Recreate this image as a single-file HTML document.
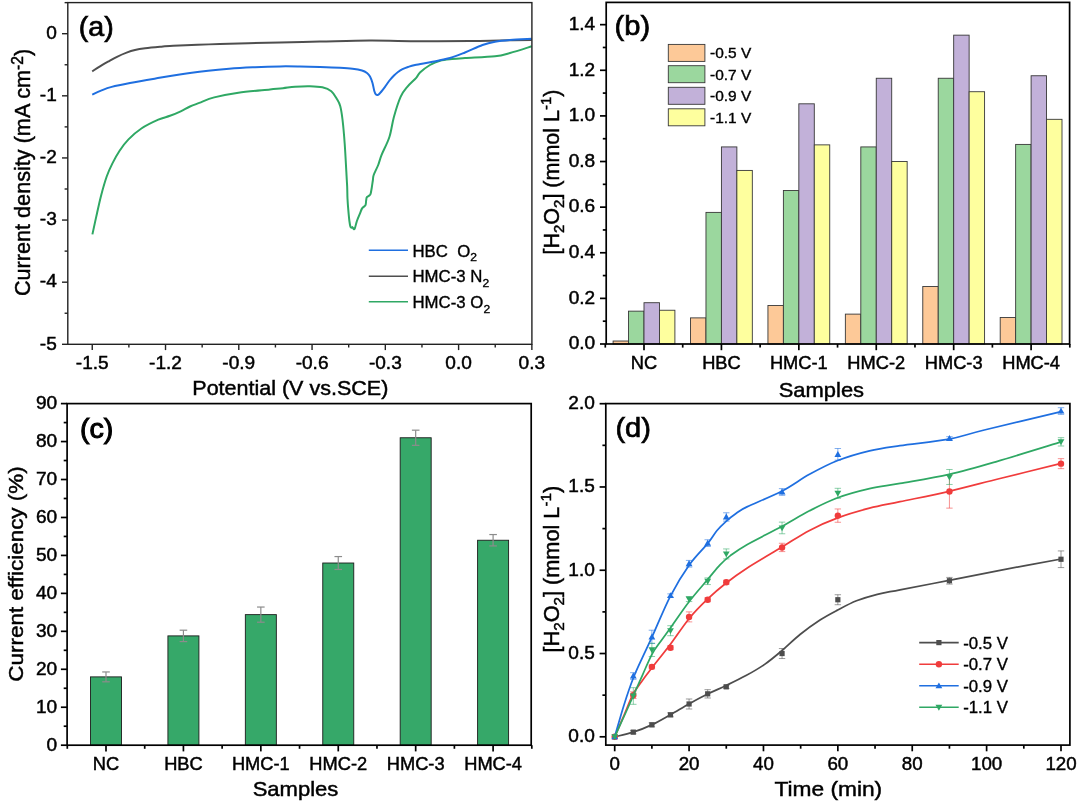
<!DOCTYPE html>
<html lang="en"><head><meta charset="utf-8"><title>Figure</title>
<style>html,body{margin:0;padding:0;background:#fff;}svg{display:block;}text{font-family:"Liberation Sans", Arial, Helvetica, sans-serif;}</style></head><body>
<svg width="1080" height="805" viewBox="0 0 1080 805">
<rect x="0" y="0" width="1080" height="805" fill="#fff"/>
<g id="panel-a">
<line x1="92.25" y1="344.3" x2="92.25" y2="350.1" stroke="#222" stroke-width="1.4" />
<text transform="translate(92.25,368.9) scale(1.09,1.0)" font-size="17.5" text-anchor="middle" font-weight="normal" fill="#000" stroke="#000" stroke-width="0.45">-1.5</text>
<line x1="165.52" y1="344.3" x2="165.52" y2="350.1" stroke="#222" stroke-width="1.4" />
<text transform="translate(165.52,368.9) scale(1.09,1.0)" font-size="17.5" text-anchor="middle" font-weight="normal" fill="#000" stroke="#000" stroke-width="0.45">-1.2</text>
<line x1="238.79" y1="344.3" x2="238.79" y2="350.1" stroke="#222" stroke-width="1.4" />
<text transform="translate(238.79,368.9) scale(1.09,1.0)" font-size="17.5" text-anchor="middle" font-weight="normal" fill="#000" stroke="#000" stroke-width="0.45">-0.9</text>
<line x1="312.06" y1="344.3" x2="312.06" y2="350.1" stroke="#222" stroke-width="1.4" />
<text transform="translate(312.06,368.9) scale(1.09,1.0)" font-size="17.5" text-anchor="middle" font-weight="normal" fill="#000" stroke="#000" stroke-width="0.45">-0.6</text>
<line x1="385.33" y1="344.3" x2="385.33" y2="350.1" stroke="#222" stroke-width="1.4" />
<text transform="translate(385.33,368.9) scale(1.09,1.0)" font-size="17.5" text-anchor="middle" font-weight="normal" fill="#000" stroke="#000" stroke-width="0.45">-0.3</text>
<line x1="458.6" y1="344.3" x2="458.6" y2="350.1" stroke="#222" stroke-width="1.4" />
<text transform="translate(458.6,368.9) scale(1.09,1.0)" font-size="17.5" text-anchor="middle" font-weight="normal" fill="#000" stroke="#000" stroke-width="0.45">0.0</text>
<line x1="531.87" y1="344.3" x2="531.87" y2="350.1" stroke="#222" stroke-width="1.4" />
<text transform="translate(531.87,368.9) scale(1.09,1.0)" font-size="17.5" text-anchor="middle" font-weight="normal" fill="#000" stroke="#000" stroke-width="0.45">0.3</text>
<line x1="128.88" y1="344.3" x2="128.88" y2="347.5" stroke="#222" stroke-width="1.4" />
<line x1="202.16" y1="344.3" x2="202.16" y2="347.5" stroke="#222" stroke-width="1.4" />
<line x1="275.42" y1="344.3" x2="275.42" y2="347.5" stroke="#222" stroke-width="1.4" />
<line x1="348.69" y1="344.3" x2="348.69" y2="347.5" stroke="#222" stroke-width="1.4" />
<line x1="421.96" y1="344.3" x2="421.96" y2="347.5" stroke="#222" stroke-width="1.4" />
<line x1="495.23" y1="344.3" x2="495.23" y2="347.5" stroke="#222" stroke-width="1.4" />
<line x1="67.8" y1="33.7" x2="62" y2="33.7" stroke="#222" stroke-width="1.4" />
<text transform="translate(56.8,39) scale(1.09,1.0)" font-size="17.5" text-anchor="end" font-weight="normal" fill="#000" stroke="#000" stroke-width="0.45">0</text>
<line x1="67.8" y1="95.82" x2="62" y2="95.82" stroke="#222" stroke-width="1.4" />
<text transform="translate(56.8,101.12) scale(1.09,1.0)" font-size="17.5" text-anchor="end" font-weight="normal" fill="#000" stroke="#000" stroke-width="0.45">-1</text>
<line x1="67.8" y1="157.94" x2="62" y2="157.94" stroke="#222" stroke-width="1.4" />
<text transform="translate(56.8,163.24) scale(1.09,1.0)" font-size="17.5" text-anchor="end" font-weight="normal" fill="#000" stroke="#000" stroke-width="0.45">-2</text>
<line x1="67.8" y1="220.06" x2="62" y2="220.06" stroke="#222" stroke-width="1.4" />
<text transform="translate(56.8,225.36) scale(1.09,1.0)" font-size="17.5" text-anchor="end" font-weight="normal" fill="#000" stroke="#000" stroke-width="0.45">-3</text>
<line x1="67.8" y1="282.18" x2="62" y2="282.18" stroke="#222" stroke-width="1.4" />
<text transform="translate(56.8,287.48) scale(1.09,1.0)" font-size="17.5" text-anchor="end" font-weight="normal" fill="#000" stroke="#000" stroke-width="0.45">-4</text>
<line x1="67.8" y1="344.3" x2="62" y2="344.3" stroke="#222" stroke-width="1.4" />
<text transform="translate(56.8,349.6) scale(1.09,1.0)" font-size="17.5" text-anchor="end" font-weight="normal" fill="#000" stroke="#000" stroke-width="0.45">-5</text>
<line x1="67.8" y1="2.64" x2="64.6" y2="2.64" stroke="#222" stroke-width="1.4" />
<line x1="67.8" y1="64.76" x2="64.6" y2="64.76" stroke="#222" stroke-width="1.4" />
<line x1="67.8" y1="126.88" x2="64.6" y2="126.88" stroke="#222" stroke-width="1.4" />
<line x1="67.8" y1="189" x2="64.6" y2="189" stroke="#222" stroke-width="1.4" />
<line x1="67.8" y1="251.12" x2="64.6" y2="251.12" stroke="#222" stroke-width="1.4" />
<line x1="67.8" y1="313.24" x2="64.6" y2="313.24" stroke="#222" stroke-width="1.4" />
<clipPath id="clipA"><rect x="67.8" y="2.6" width="464.09999999999997" height="341.7"/></clipPath>
<g clip-path="url(#clipA)" fill="none" stroke-width="2.0" stroke-linejoin="round" stroke-linecap="butt">
<path d="M92.2,71.3 C93.5,70.47 97.37,67.9 100,66.3 C102.63,64.7 105.17,63.28 108,61.7 C110.83,60.12 113.9,58.32 117,56.8 C120.1,55.28 123.6,53.73 126.6,52.6 C129.6,51.47 131.9,50.72 135,50 C138.1,49.28 141.03,48.83 145.2,48.3 C149.37,47.77 155.33,47.22 160,46.8 C164.67,46.38 163.23,46.28 173.2,45.8 C183.17,45.32 202,44.47 219.8,43.9 C237.6,43.33 263.3,42.78 280,42.4 C296.7,42.02 305,41.9 320,41.6 C335,41.3 353.33,40.67 370,40.6 C386.67,40.53 403.33,41.13 420,41.2 C436.67,41.27 456.67,41.12 470,41 C483.33,40.88 489.71,40.67 500,40.5 C510.29,40.33 526.46,40.08 531.75,40" stroke="#4f4f4f"/>
<path d="M92.4,234.4 C93.03,231.48 94.77,223.32 96.2,216.9 C97.63,210.48 99.25,202.63 101,195.9 C102.75,189.17 104.82,181.88 106.7,176.5 C108.58,171.12 110.15,167.9 112.3,163.6 C114.45,159.3 116.9,154.73 119.6,150.7 C122.3,146.67 124.87,143.1 128.5,139.4 C132.13,135.7 136.43,131.78 141.4,128.5 C146.37,125.22 153.53,121.82 158.3,119.7 C163.07,117.58 166.27,117.2 170,115.8 C173.73,114.4 177.37,112.85 180.7,111.3 C184.03,109.75 186.9,107.9 190,106.5 C193.1,105.1 195.27,104.42 199.3,102.9 C203.33,101.38 207.68,99.1 214.2,97.4 C220.72,95.7 229.1,94.02 238.4,92.7 C247.7,91.38 262.57,90.25 270,89.5 C277.43,88.75 278.83,88.67 283,88.2 C287.17,87.73 290.5,87.03 295,86.7 C299.5,86.37 305.43,86.1 310,86.2 C314.57,86.3 318.85,86.47 322.4,87.3 C325.95,88.13 328.88,89.25 331.3,91.2 C333.72,93.15 335.42,96.53 336.9,99 C338.38,101.47 339.27,102.58 340.2,106 C341.13,109.42 341.75,113.22 342.5,119.5 C343.25,125.78 343.98,133.62 344.7,143.7 C345.42,153.78 346.38,172.7 346.8,180 C347.22,187.3 347.08,184.38 347.2,187.5 C347.32,190.62 347.32,194.97 347.5,198.7 C347.68,202.43 347.98,206.18 348.3,209.9 C348.62,213.62 349.03,218.15 349.4,221 C349.77,223.85 350.08,225.87 350.5,227 C350.92,228.13 351.57,227.77 351.9,227.8 C352.23,227.83 352.17,226.95 352.5,227.2 C352.83,227.45 353.48,229.2 353.9,229.3 C354.32,229.4 354.5,229.18 355,227.8 C355.5,226.42 356.08,223.37 356.9,221 C357.72,218.63 359.03,215.7 359.9,213.6 C360.77,211.5 361.23,209.72 362.1,208.4 C362.97,207.08 364.48,206.45 365.1,205.7 C365.72,204.95 365.62,204.83 365.8,203.9 C365.98,202.97 366.02,201.22 366.2,200.1 C366.38,198.98 366.33,198 366.9,197.2 C367.47,196.4 368.97,195.93 369.6,195.3 C370.23,194.67 370.33,194.7 370.7,193.4 C371.07,192.1 371.43,189.73 371.8,187.5 C372.17,185.27 372.58,182.08 372.9,180 C373.22,177.92 372.82,177.5 373.7,175 C374.58,172.5 376.88,168.35 378.2,165 C379.52,161.65 379.73,159.57 381.6,154.9 C383.47,150.23 387.35,143.33 389.4,137 C391.45,130.67 392.03,123.6 393.9,116.9 C395.77,110.2 398.37,101.82 400.6,96.8 C402.83,91.78 404.7,89.97 407.3,86.8 C409.9,83.63 414.08,80.18 416.2,77.8 C418.32,75.42 417.7,74.63 420,72.5 C422.3,70.37 426.67,66.96 430,65 C433.33,63.04 436.33,61.75 440,60.75 C443.67,59.75 447.83,59.46 452,59 C456.17,58.54 457.83,58.46 465,58 C472.17,57.54 487.5,57.08 495,56.25 C502.5,55.42 503.88,54.67 510,53 C516.12,51.33 528.12,47.38 531.75,46.25" stroke="#2fa864"/>
<path d="M92.2,94.6 C93.67,93.93 97.75,91.88 101,90.6 C104.25,89.32 106.87,88.17 111.7,86.9 C116.53,85.63 122.85,84.37 130,83 C137.15,81.63 144.3,80.42 154.6,78.7 C164.9,76.98 179.38,74.35 191.8,72.7 C204.22,71.05 218.57,69.72 229.1,68.8 C239.63,67.88 246.52,67.6 255,67.2 C263.48,66.8 272.5,66.52 280,66.4 C287.5,66.28 293.33,66.4 300,66.5 C306.67,66.6 313.33,66.78 320,67 C326.67,67.22 334.58,67.51 340,67.8 C345.42,68.09 348.83,68.3 352.5,68.75 C356.17,69.2 359.58,69.79 362,70.5 C364.42,71.21 365.67,72 367,73 C368.33,74 369.08,74.83 370,76.5 C370.92,78.17 371.78,80.58 372.5,83 C373.22,85.42 373.72,89.07 374.3,91 C374.88,92.93 375.3,94 376,94.6 C376.7,95.2 377.67,95.03 378.5,94.6 C379.33,94.17 379.92,93.3 381,92 C382.08,90.7 383.58,88.72 385,86.8 C386.42,84.88 388,82.38 389.5,80.5 C391,78.62 392.58,76.92 394,75.5 C395.42,74.08 396.58,73.05 398,72 C399.42,70.95 400.83,70.03 402.5,69.2 C404.17,68.37 405.92,67.7 408,67 C410.08,66.3 410.92,65.88 415,65 C419.08,64.12 426.67,62.92 432.5,61.75 C438.33,60.58 444.58,59.54 450,58 C455.42,56.46 459.58,54.67 465,52.5 C470.42,50.33 477.5,46.79 482.5,45 C487.5,43.21 490.42,42.58 495,41.75 C499.58,40.92 503.88,40.5 510,40 C516.12,39.5 528.12,38.96 531.75,38.75" stroke="#1f6fe0"/>
</g>
<rect x="67.8" y="2.6" width="464.1" height="341.7" fill="none" stroke="#222" stroke-width="1.4"/>
<line x1="368.8" y1="250.3" x2="408" y2="250.3" stroke="#1f6fe0" stroke-width="1.6" />
<text transform="translate(412.5,256.7) scale(1.05,1.0)" font-size="16" text-anchor="start" font-weight="normal" fill="#000" stroke="#000" stroke-width="0.35">HBC&#160; O<tspan font-size="11.5" dy="4.6">2</tspan></text>
<line x1="368.8" y1="276.3" x2="408" y2="276.3" stroke="#4f4f4f" stroke-width="1.6" />
<text transform="translate(412.5,282.3) scale(1.05,1.0)" font-size="16" text-anchor="start" font-weight="normal" fill="#000" stroke="#000" stroke-width="0.35">HMC-3 N<tspan font-size="11.5" dy="4.6">2</tspan></text>
<line x1="368.8" y1="301.8" x2="408" y2="301.8" stroke="#2fa864" stroke-width="1.6" />
<text transform="translate(412.5,307.9) scale(1.05,1.0)" font-size="16" text-anchor="start" font-weight="normal" fill="#000" stroke="#000" stroke-width="0.35">HMC-3 O<tspan font-size="11.5" dy="4.6">2</tspan></text>
<text transform="translate(78.8,36.4) scale(1.04,1.0)" font-size="27.5" text-anchor="start" font-weight="normal" fill="#000" stroke="#000" stroke-width="0.7">(a)</text>
<text transform="translate(290.3,394.8) scale(1.05,1.0)" font-size="20.5" text-anchor="middle" font-weight="normal" fill="#000" stroke="#000" stroke-width="0.45">Potential (V vs.SCE)</text>
<text transform="translate(30.1,172.5) rotate(-90) scale(1.007,1.04)" font-size="21.5" text-anchor="middle" font-weight="normal" fill="#000" stroke="#000" stroke-width="0.45">Current density (mA cm<tspan font-size="15.5" dy="-6.8">-2</tspan><tspan dy="6.8">)</tspan></text>
</g>
<g id="panel-b">
<rect x="613.1" y="341.03" width="15.45" height="2.97" fill="#fdc998" stroke="#383838" stroke-width="0.9"/>
<rect x="628.55" y="311.15" width="15.45" height="32.85" fill="#9bd79e" stroke="#383838" stroke-width="0.9"/>
<rect x="644" y="302.71" width="15.45" height="41.29" fill="#c2b1d9" stroke="#383838" stroke-width="0.9"/>
<rect x="659.45" y="310.24" width="15.45" height="33.76" fill="#feff9e" stroke="#383838" stroke-width="0.9"/>
<rect x="690.52" y="317.88" width="15.45" height="26.12" fill="#fdc998" stroke="#383838" stroke-width="0.9"/>
<rect x="705.97" y="212.39" width="15.45" height="131.61" fill="#9bd79e" stroke="#383838" stroke-width="0.9"/>
<rect x="721.42" y="146.92" width="15.45" height="197.08" fill="#c2b1d9" stroke="#383838" stroke-width="0.9"/>
<rect x="736.87" y="170.42" width="15.45" height="173.58" fill="#feff9e" stroke="#383838" stroke-width="0.9"/>
<rect x="767.94" y="305.45" width="15.45" height="38.55" fill="#fdc998" stroke="#383838" stroke-width="0.9"/>
<rect x="783.39" y="190.49" width="15.45" height="153.51" fill="#9bd79e" stroke="#383838" stroke-width="0.9"/>
<rect x="798.84" y="103.81" width="15.45" height="240.19" fill="#c2b1d9" stroke="#383838" stroke-width="0.9"/>
<rect x="814.29" y="144.87" width="15.45" height="199.13" fill="#feff9e" stroke="#383838" stroke-width="0.9"/>
<rect x="845.36" y="314.12" width="15.45" height="29.88" fill="#fdc998" stroke="#383838" stroke-width="0.9"/>
<rect x="860.81" y="146.92" width="15.45" height="197.08" fill="#9bd79e" stroke="#383838" stroke-width="0.9"/>
<rect x="876.26" y="78.26" width="15.45" height="265.74" fill="#c2b1d9" stroke="#383838" stroke-width="0.9"/>
<rect x="891.71" y="161.52" width="15.45" height="182.48" fill="#feff9e" stroke="#383838" stroke-width="0.9"/>
<rect x="922.78" y="286.52" width="15.45" height="57.48" fill="#fdc998" stroke="#383838" stroke-width="0.9"/>
<rect x="938.23" y="78.26" width="15.45" height="265.74" fill="#9bd79e" stroke="#383838" stroke-width="0.9"/>
<rect x="953.68" y="35.15" width="15.45" height="308.85" fill="#c2b1d9" stroke="#383838" stroke-width="0.9"/>
<rect x="969.13" y="91.72" width="15.45" height="252.28" fill="#feff9e" stroke="#383838" stroke-width="0.9"/>
<rect x="1000.2" y="317.54" width="15.45" height="26.46" fill="#fdc998" stroke="#383838" stroke-width="0.9"/>
<rect x="1015.65" y="144.41" width="15.45" height="199.59" fill="#9bd79e" stroke="#383838" stroke-width="0.9"/>
<rect x="1031.1" y="75.75" width="15.45" height="268.25" fill="#c2b1d9" stroke="#383838" stroke-width="0.9"/>
<rect x="1046.55" y="119.32" width="15.45" height="224.68" fill="#feff9e" stroke="#383838" stroke-width="0.9"/>
<line x1="606.2" y1="344" x2="600" y2="344" stroke="#000" stroke-width="1.7" />
<text transform="translate(595.2,349.3) scale(1.09,1.0)" font-size="17.5" text-anchor="end" font-weight="normal" fill="#000" stroke="#000" stroke-width="0.45">0.0</text>
<line x1="606.2" y1="298.38" x2="600" y2="298.38" stroke="#000" stroke-width="1.7" />
<text transform="translate(595.2,303.68) scale(1.09,1.0)" font-size="17.5" text-anchor="end" font-weight="normal" fill="#000" stroke="#000" stroke-width="0.45">0.2</text>
<line x1="606.2" y1="252.76" x2="600" y2="252.76" stroke="#000" stroke-width="1.7" />
<text transform="translate(595.2,258.06) scale(1.09,1.0)" font-size="17.5" text-anchor="end" font-weight="normal" fill="#000" stroke="#000" stroke-width="0.45">0.4</text>
<line x1="606.2" y1="207.14" x2="600" y2="207.14" stroke="#000" stroke-width="1.7" />
<text transform="translate(595.2,212.44) scale(1.09,1.0)" font-size="17.5" text-anchor="end" font-weight="normal" fill="#000" stroke="#000" stroke-width="0.45">0.6</text>
<line x1="606.2" y1="161.52" x2="600" y2="161.52" stroke="#000" stroke-width="1.7" />
<text transform="translate(595.2,166.82) scale(1.09,1.0)" font-size="17.5" text-anchor="end" font-weight="normal" fill="#000" stroke="#000" stroke-width="0.45">0.8</text>
<line x1="606.2" y1="115.9" x2="600" y2="115.9" stroke="#000" stroke-width="1.7" />
<text transform="translate(595.2,121.2) scale(1.09,1.0)" font-size="17.5" text-anchor="end" font-weight="normal" fill="#000" stroke="#000" stroke-width="0.45">1.0</text>
<line x1="606.2" y1="70.28" x2="600" y2="70.28" stroke="#000" stroke-width="1.7" />
<text transform="translate(595.2,75.58) scale(1.09,1.0)" font-size="17.5" text-anchor="end" font-weight="normal" fill="#000" stroke="#000" stroke-width="0.45">1.2</text>
<line x1="606.2" y1="24.66" x2="600" y2="24.66" stroke="#000" stroke-width="1.7" />
<text transform="translate(595.2,29.96) scale(1.09,1.0)" font-size="17.5" text-anchor="end" font-weight="normal" fill="#000" stroke="#000" stroke-width="0.45">1.4</text>
<line x1="606.2" y1="321.19" x2="602.8" y2="321.19" stroke="#000" stroke-width="1.7" />
<line x1="606.2" y1="275.57" x2="602.8" y2="275.57" stroke="#000" stroke-width="1.7" />
<line x1="606.2" y1="229.95" x2="602.8" y2="229.95" stroke="#000" stroke-width="1.7" />
<line x1="606.2" y1="184.33" x2="602.8" y2="184.33" stroke="#000" stroke-width="1.7" />
<line x1="606.2" y1="138.71" x2="602.8" y2="138.71" stroke="#000" stroke-width="1.7" />
<line x1="606.2" y1="93.09" x2="602.8" y2="93.09" stroke="#000" stroke-width="1.7" />
<line x1="606.2" y1="47.47" x2="602.8" y2="47.47" stroke="#000" stroke-width="1.7" />
<line x1="644" y1="344" x2="644" y2="350.2" stroke="#000" stroke-width="1.7" />
<text transform="translate(644,369.2) scale(1.045,1.0)" font-size="17.5" text-anchor="middle" font-weight="normal" fill="#000" stroke="#000" stroke-width="0.45">NC</text>
<line x1="721.42" y1="344" x2="721.42" y2="350.2" stroke="#000" stroke-width="1.7" />
<text transform="translate(721.42,369.2) scale(1.045,1.0)" font-size="17.5" text-anchor="middle" font-weight="normal" fill="#000" stroke="#000" stroke-width="0.45">HBC</text>
<line x1="798.84" y1="344" x2="798.84" y2="350.2" stroke="#000" stroke-width="1.7" />
<text transform="translate(798.84,369.2) scale(1.045,1.0)" font-size="17.5" text-anchor="middle" font-weight="normal" fill="#000" stroke="#000" stroke-width="0.45">HMC-1</text>
<line x1="876.26" y1="344" x2="876.26" y2="350.2" stroke="#000" stroke-width="1.7" />
<text transform="translate(876.26,369.2) scale(1.045,1.0)" font-size="17.5" text-anchor="middle" font-weight="normal" fill="#000" stroke="#000" stroke-width="0.45">HMC-2</text>
<line x1="953.68" y1="344" x2="953.68" y2="350.2" stroke="#000" stroke-width="1.7" />
<text transform="translate(953.68,369.2) scale(1.045,1.0)" font-size="17.5" text-anchor="middle" font-weight="normal" fill="#000" stroke="#000" stroke-width="0.45">HMC-3</text>
<line x1="1031.1" y1="344" x2="1031.1" y2="350.2" stroke="#000" stroke-width="1.7" />
<text transform="translate(1031.1,369.2) scale(1.045,1.0)" font-size="17.5" text-anchor="middle" font-weight="normal" fill="#000" stroke="#000" stroke-width="0.45">HMC-4</text>
<line x1="605.29" y1="344" x2="605.29" y2="347.6" stroke="#000" stroke-width="1.7" />
<line x1="682.71" y1="344" x2="682.71" y2="347.6" stroke="#000" stroke-width="1.7" />
<line x1="760.13" y1="344" x2="760.13" y2="347.6" stroke="#000" stroke-width="1.7" />
<line x1="837.55" y1="344" x2="837.55" y2="347.6" stroke="#000" stroke-width="1.7" />
<line x1="914.97" y1="344" x2="914.97" y2="347.6" stroke="#000" stroke-width="1.7" />
<line x1="992.39" y1="344" x2="992.39" y2="347.6" stroke="#000" stroke-width="1.7" />
<line x1="1069.81" y1="344" x2="1069.81" y2="347.6" stroke="#000" stroke-width="1.7" />
<rect x="606.2" y="2.4" width="463.4" height="341.6" fill="none" stroke="#000" stroke-width="1.7"/>
<rect x="668.3" y="44.4" width="36.6" height="17" fill="#fdc998" stroke="#383838" stroke-width="0.9"/>
<text transform="translate(710,58.4) scale(1.08,1.0)" font-size="14.3" text-anchor="start" font-weight="normal" fill="#000" stroke="#000" stroke-width="0.35">-0.5 V</text>
<rect x="668.3" y="65.7" width="36.6" height="17" fill="#9bd79e" stroke="#383838" stroke-width="0.9"/>
<text transform="translate(710,79.7) scale(1.08,1.0)" font-size="14.3" text-anchor="start" font-weight="normal" fill="#000" stroke="#000" stroke-width="0.35">-0.7 V</text>
<rect x="668.3" y="87.3" width="36.6" height="17" fill="#c2b1d9" stroke="#383838" stroke-width="0.9"/>
<text transform="translate(710,101.3) scale(1.08,1.0)" font-size="14.3" text-anchor="start" font-weight="normal" fill="#000" stroke="#000" stroke-width="0.35">-0.9 V</text>
<rect x="668.3" y="108.8" width="36.6" height="17" fill="#feff9e" stroke="#383838" stroke-width="0.9"/>
<text transform="translate(710,122.8) scale(1.08,1.0)" font-size="14.3" text-anchor="start" font-weight="normal" fill="#000" stroke="#000" stroke-width="0.35">-1.1 V</text>
<text transform="translate(614.6,35.3) scale(1.06,1.0)" font-size="27.5" text-anchor="start" font-weight="normal" fill="#000" stroke="#000" stroke-width="0.7">(b)</text>
<text transform="translate(821.4,396.9) scale(1.07,1.0)" font-size="20.5" text-anchor="middle" font-weight="normal" fill="#000" stroke="#000" stroke-width="0.45">Samples</text>
<text transform="translate(559.2,172) rotate(-90) scale(1.0,1.03)" font-size="21.5" text-anchor="middle" font-weight="normal" fill="#000" stroke="#000" stroke-width="0.45">[H<tspan font-size="15" dy="4.5">2</tspan><tspan dy="-4.5">O</tspan><tspan font-size="15" dy="4.5">2</tspan><tspan dy="-4.5">] (mmol L</tspan><tspan font-size="15" dy="-7.5">-1</tspan><tspan dy="7.5">)</tspan></text>
</g>
<g id="panel-c">
<rect x="59.099999999999994" y="402.8" width="473.1" height="349.6" fill="#fff" stroke="none" opacity="0"/>
<rect x="90.5" y="676.88" width="31" height="68.32" fill="#36a869" stroke="#1c1c1c" stroke-width="0.9"/>
<line x1="106" y1="671.95" x2="106" y2="681.81" stroke="#8c8c8c" stroke-width="1.2" />
<line x1="102.2" y1="671.95" x2="109.8" y2="671.95" stroke="#8c8c8c" stroke-width="1.2" />
<line x1="102.2" y1="681.81" x2="109.8" y2="681.81" stroke="#8c8c8c" stroke-width="1.2" />
<rect x="167.92" y="635.89" width="31" height="109.31" fill="#36a869" stroke="#1c1c1c" stroke-width="0.9"/>
<line x1="183.42" y1="630.19" x2="183.42" y2="641.58" stroke="#8c8c8c" stroke-width="1.2" />
<line x1="179.62" y1="630.19" x2="187.22" y2="630.19" stroke="#8c8c8c" stroke-width="1.2" />
<line x1="179.62" y1="641.58" x2="187.22" y2="641.58" stroke="#8c8c8c" stroke-width="1.2" />
<rect x="245.34" y="614.63" width="31" height="130.57" fill="#36a869" stroke="#1c1c1c" stroke-width="0.9"/>
<line x1="260.84" y1="607.04" x2="260.84" y2="622.22" stroke="#8c8c8c" stroke-width="1.2" />
<line x1="257.04" y1="607.04" x2="264.64" y2="607.04" stroke="#8c8c8c" stroke-width="1.2" />
<line x1="257.04" y1="622.22" x2="264.64" y2="622.22" stroke="#8c8c8c" stroke-width="1.2" />
<rect x="322.76" y="563.01" width="31" height="182.19" fill="#36a869" stroke="#1c1c1c" stroke-width="0.9"/>
<line x1="338.26" y1="556.56" x2="338.26" y2="569.47" stroke="#8c8c8c" stroke-width="1.2" />
<line x1="334.46" y1="556.56" x2="342.06" y2="556.56" stroke="#8c8c8c" stroke-width="1.2" />
<line x1="334.46" y1="569.47" x2="342.06" y2="569.47" stroke="#8c8c8c" stroke-width="1.2" />
<rect x="400.18" y="437.76" width="31" height="307.44" fill="#36a869" stroke="#1c1c1c" stroke-width="0.9"/>
<line x1="415.68" y1="430.17" x2="415.68" y2="445.35" stroke="#8c8c8c" stroke-width="1.2" />
<line x1="411.88" y1="430.17" x2="419.48" y2="430.17" stroke="#8c8c8c" stroke-width="1.2" />
<line x1="411.88" y1="445.35" x2="419.48" y2="445.35" stroke="#8c8c8c" stroke-width="1.2" />
<rect x="477.6" y="540.24" width="31" height="204.96" fill="#36a869" stroke="#1c1c1c" stroke-width="0.9"/>
<line x1="493.1" y1="534.55" x2="493.1" y2="545.93" stroke="#8c8c8c" stroke-width="1.2" />
<line x1="489.3" y1="534.55" x2="496.9" y2="534.55" stroke="#8c8c8c" stroke-width="1.2" />
<line x1="489.3" y1="545.93" x2="496.9" y2="545.93" stroke="#8c8c8c" stroke-width="1.2" />
<line x1="67.1" y1="745.2" x2="60.9" y2="745.2" stroke="#000" stroke-width="1.7" />
<text transform="translate(57.2,750.8) scale(1.09,1.0)" font-size="17.5" text-anchor="end" font-weight="normal" fill="#000" stroke="#000" stroke-width="0.45">0</text>
<line x1="67.1" y1="707.24" x2="60.9" y2="707.24" stroke="#000" stroke-width="1.7" />
<text transform="translate(57.2,712.84) scale(1.09,1.0)" font-size="17.5" text-anchor="end" font-weight="normal" fill="#000" stroke="#000" stroke-width="0.45">10</text>
<line x1="67.1" y1="669.29" x2="60.9" y2="669.29" stroke="#000" stroke-width="1.7" />
<text transform="translate(57.2,674.89) scale(1.09,1.0)" font-size="17.5" text-anchor="end" font-weight="normal" fill="#000" stroke="#000" stroke-width="0.45">20</text>
<line x1="67.1" y1="631.33" x2="60.9" y2="631.33" stroke="#000" stroke-width="1.7" />
<text transform="translate(57.2,636.93) scale(1.09,1.0)" font-size="17.5" text-anchor="end" font-weight="normal" fill="#000" stroke="#000" stroke-width="0.45">30</text>
<line x1="67.1" y1="593.38" x2="60.9" y2="593.38" stroke="#000" stroke-width="1.7" />
<text transform="translate(57.2,598.98) scale(1.09,1.0)" font-size="17.5" text-anchor="end" font-weight="normal" fill="#000" stroke="#000" stroke-width="0.45">40</text>
<line x1="67.1" y1="555.42" x2="60.9" y2="555.42" stroke="#000" stroke-width="1.7" />
<text transform="translate(57.2,561.02) scale(1.09,1.0)" font-size="17.5" text-anchor="end" font-weight="normal" fill="#000" stroke="#000" stroke-width="0.45">50</text>
<line x1="67.1" y1="517.47" x2="60.9" y2="517.47" stroke="#000" stroke-width="1.7" />
<text transform="translate(57.2,523.07) scale(1.09,1.0)" font-size="17.5" text-anchor="end" font-weight="normal" fill="#000" stroke="#000" stroke-width="0.45">60</text>
<line x1="67.1" y1="479.51" x2="60.9" y2="479.51" stroke="#000" stroke-width="1.7" />
<text transform="translate(57.2,485.11) scale(1.09,1.0)" font-size="17.5" text-anchor="end" font-weight="normal" fill="#000" stroke="#000" stroke-width="0.45">70</text>
<line x1="67.1" y1="441.56" x2="60.9" y2="441.56" stroke="#000" stroke-width="1.7" />
<text transform="translate(57.2,447.16) scale(1.09,1.0)" font-size="17.5" text-anchor="end" font-weight="normal" fill="#000" stroke="#000" stroke-width="0.45">80</text>
<line x1="67.1" y1="403.6" x2="60.9" y2="403.6" stroke="#000" stroke-width="1.7" />
<text transform="translate(57.2,409.2) scale(1.09,1.0)" font-size="17.5" text-anchor="end" font-weight="normal" fill="#000" stroke="#000" stroke-width="0.45">90</text>
<line x1="67.1" y1="726.22" x2="63.7" y2="726.22" stroke="#000" stroke-width="1.7" />
<line x1="67.1" y1="688.27" x2="63.7" y2="688.27" stroke="#000" stroke-width="1.7" />
<line x1="67.1" y1="650.31" x2="63.7" y2="650.31" stroke="#000" stroke-width="1.7" />
<line x1="67.1" y1="612.36" x2="63.7" y2="612.36" stroke="#000" stroke-width="1.7" />
<line x1="67.1" y1="574.4" x2="63.7" y2="574.4" stroke="#000" stroke-width="1.7" />
<line x1="67.1" y1="536.44" x2="63.7" y2="536.44" stroke="#000" stroke-width="1.7" />
<line x1="67.1" y1="498.49" x2="63.7" y2="498.49" stroke="#000" stroke-width="1.7" />
<line x1="67.1" y1="460.53" x2="63.7" y2="460.53" stroke="#000" stroke-width="1.7" />
<line x1="67.1" y1="422.58" x2="63.7" y2="422.58" stroke="#000" stroke-width="1.7" />
<line x1="106" y1="745.2" x2="106" y2="751.4" stroke="#000" stroke-width="1.7" />
<text transform="translate(106,770.2) scale(1.045,1.0)" font-size="17.5" text-anchor="middle" font-weight="normal" fill="#000" stroke="#000" stroke-width="0.45">NC</text>
<line x1="183.42" y1="745.2" x2="183.42" y2="751.4" stroke="#000" stroke-width="1.7" />
<text transform="translate(183.42,770.2) scale(1.045,1.0)" font-size="17.5" text-anchor="middle" font-weight="normal" fill="#000" stroke="#000" stroke-width="0.45">HBC</text>
<line x1="260.84" y1="745.2" x2="260.84" y2="751.4" stroke="#000" stroke-width="1.7" />
<text transform="translate(260.84,770.2) scale(1.045,1.0)" font-size="17.5" text-anchor="middle" font-weight="normal" fill="#000" stroke="#000" stroke-width="0.45">HMC-1</text>
<line x1="338.26" y1="745.2" x2="338.26" y2="751.4" stroke="#000" stroke-width="1.7" />
<text transform="translate(338.26,770.2) scale(1.045,1.0)" font-size="17.5" text-anchor="middle" font-weight="normal" fill="#000" stroke="#000" stroke-width="0.45">HMC-2</text>
<line x1="415.68" y1="745.2" x2="415.68" y2="751.4" stroke="#000" stroke-width="1.7" />
<text transform="translate(415.68,770.2) scale(1.045,1.0)" font-size="17.5" text-anchor="middle" font-weight="normal" fill="#000" stroke="#000" stroke-width="0.45">HMC-3</text>
<line x1="493.1" y1="745.2" x2="493.1" y2="751.4" stroke="#000" stroke-width="1.7" />
<text transform="translate(493.1,770.2) scale(1.045,1.0)" font-size="17.5" text-anchor="middle" font-weight="normal" fill="#000" stroke="#000" stroke-width="0.45">HMC-4</text>
<line x1="67.29" y1="745.2" x2="67.29" y2="748.8" stroke="#000" stroke-width="1.7" />
<line x1="144.71" y1="745.2" x2="144.71" y2="748.8" stroke="#000" stroke-width="1.7" />
<line x1="222.13" y1="745.2" x2="222.13" y2="748.8" stroke="#000" stroke-width="1.7" />
<line x1="299.55" y1="745.2" x2="299.55" y2="748.8" stroke="#000" stroke-width="1.7" />
<line x1="376.97" y1="745.2" x2="376.97" y2="748.8" stroke="#000" stroke-width="1.7" />
<line x1="454.39" y1="745.2" x2="454.39" y2="748.8" stroke="#000" stroke-width="1.7" />
<line x1="531.81" y1="745.2" x2="531.81" y2="748.8" stroke="#000" stroke-width="1.7" />
<rect x="67.1" y="403.6" width="464.1" height="341.6" fill="none" stroke="#000" stroke-width="1.7"/>
<text transform="translate(80,438) scale(1.06,1.0)" font-size="27" text-anchor="start" font-weight="normal" fill="#000" stroke="#000" stroke-width="1.0">(c)</text>
<text transform="translate(295.5,795.5) scale(1.075,1.0)" font-size="20.5" text-anchor="middle" font-weight="normal" fill="#000" stroke="#000" stroke-width="0.45">Samples</text>
<text transform="translate(23.1,574) rotate(-90) scale(1.096,1.0)" font-size="20.5" text-anchor="middle" font-weight="normal" fill="#000" stroke="#000" stroke-width="0.45">Current efficiency (%)</text>
</g>
<g id="panel-d">
<path d="M614.7,736.8 C617.77,736.03 626.85,734.23 633.1,732.2 C639.35,730.17 645.98,727.52 652.2,724.6 C658.42,721.68 664.2,718.18 670.4,714.7 C676.6,711.22 683.13,707.18 689.4,703.7 C695.67,700.22 701.87,696.83 708,693.8 C714.13,690.77 719.87,688.53 726.2,685.5 C732.53,682.47 739.65,679.08 746,675.6 C752.35,672.12 758.35,668.73 764.3,664.6 C770.25,660.47 775.75,655.82 781.7,650.8 C787.65,645.78 793.62,639.63 800,634.5 C806.38,629.37 813.72,624.08 820,620 C826.28,615.92 831.62,613.2 837.7,610 C843.78,606.8 849.9,603.42 856.5,600.8 C863.1,598.18 870.05,596.13 877.3,594.3 C884.55,592.47 888.03,592.12 900,589.8 C911.97,587.48 932.43,583.65 949.1,580.4 C965.77,577.15 981.32,573.87 1000,570.3 C1018.68,566.73 1051,560.88 1061.2,559" fill="none" stroke="#4d4d4d" stroke-width="1.75" stroke-linejoin="round"/>
<rect x="612.1" y="734.2" width="5.2" height="5.2" fill="#4d4d4d"/>
<path d="M633.3,730.47 V733.8 M630.1,730.47 H636.5 M630.1,733.8 H636.5" stroke="#4d4d4d" stroke-width="0.7" fill="none" opacity="0.8"/>
<rect x="630.7" y="729.54" width="5.2" height="5.2" fill="#4d4d4d"/>
<path d="M651.89,722.81 V726.81 M648.69,722.81 H655.09 M648.69,726.81 H655.09" stroke="#4d4d4d" stroke-width="0.7" fill="none" opacity="0.8"/>
<rect x="649.29" y="722.21" width="5.2" height="5.2" fill="#4d4d4d"/>
<path d="M670.49,712.82 V716.81 M667.29,712.82 H673.69 M667.29,716.81 H673.69" stroke="#4d4d4d" stroke-width="0.7" fill="none" opacity="0.8"/>
<rect x="667.89" y="712.22" width="5.2" height="5.2" fill="#4d4d4d"/>
<path d="M689.08,698.99 V708.99 M685.88,698.99 H692.28 M685.88,708.99 H692.28" stroke="#4d4d4d" stroke-width="0.7" fill="none" opacity="0.8"/>
<rect x="686.48" y="701.39" width="5.2" height="5.2" fill="#4d4d4d"/>
<path d="M707.68,689.67 V697.99 M704.48,689.67 H710.88 M704.48,697.99 H710.88" stroke="#4d4d4d" stroke-width="0.7" fill="none" opacity="0.8"/>
<rect x="705.08" y="691.23" width="5.2" height="5.2" fill="#4d4d4d"/>
<path d="M726.28,685.17 V688.5 M723.08,685.17 H729.48 M723.08,688.5 H729.48" stroke="#4d4d4d" stroke-width="0.7" fill="none" opacity="0.8"/>
<rect x="723.68" y="684.23" width="5.2" height="5.2" fill="#4d4d4d"/>
<path d="M782.06,648.53 V658.52 M778.86,648.53 H785.26 M778.86,658.52 H785.26" stroke="#4d4d4d" stroke-width="0.7" fill="none" opacity="0.8"/>
<rect x="779.46" y="650.92" width="5.2" height="5.2" fill="#4d4d4d"/>
<path d="M837.85,594.73 V604.73 M834.65,594.73 H841.05 M834.65,604.73 H841.05" stroke="#4d4d4d" stroke-width="0.7" fill="none" opacity="0.8"/>
<rect x="835.25" y="597.13" width="5.2" height="5.2" fill="#4d4d4d"/>
<path d="M949.43,577.41 V584.07 M946.23,577.41 H952.63 M946.23,584.07 H952.63" stroke="#4d4d4d" stroke-width="0.7" fill="none" opacity="0.8"/>
<rect x="946.83" y="578.14" width="5.2" height="5.2" fill="#4d4d4d"/>
<path d="M1061,550.93 V567.59 M1057.8,550.93 H1064.2 M1057.8,567.59 H1064.2" stroke="#4d4d4d" stroke-width="0.7" fill="none" opacity="0.8"/>
<rect x="1058.4" y="556.66" width="5.2" height="5.2" fill="#4d4d4d"/>
<path d="M614.7,736.8 C616.25,733.22 620.92,722.45 624,715.3 C627.08,708.15 630.1,699.75 633.2,693.9 C636.3,688.05 639.43,684.6 642.6,680.2 C645.77,675.8 647.57,673.48 652.2,667.5 C656.83,661.52 664.2,652.52 670.4,644.3 C676.6,636.08 683.13,625.8 689.4,618.2 C695.67,610.6 701.87,604.57 708,598.7 C714.13,592.83 719.72,588.08 726.2,583 C732.68,577.92 737.67,574.15 746.9,568.2 C756.13,562.25 771.17,553.6 781.6,547.3 C792.03,541 800.15,535.3 809.5,530.4 C818.85,525.5 827.7,521.6 837.7,517.9 C847.7,514.2 859.12,510.9 869.5,508.2 C879.88,505.5 886.73,504.52 900,501.7 C913.27,498.88 932.43,495.17 949.1,491.3 C965.77,487.43 981.32,483.15 1000,478.5 C1018.68,473.85 1051,465.92 1061.2,463.4" fill="none" stroke="#f03c3c" stroke-width="1.75" stroke-linejoin="round"/>
<circle cx="614.7" cy="736.8" r="3.2" fill="#f03c3c"/>
<path d="M633.3,691.83 V698.49 M630.1,691.83 H636.5 M630.1,698.49 H636.5" stroke="#f03c3c" stroke-width="0.7" fill="none" opacity="0.8"/>
<circle cx="633.3" cy="695.16" r="3.2" fill="#f03c3c"/>
<path d="M651.89,664.85 V668.85 M648.69,664.85 H655.09 M648.69,668.85 H655.09" stroke="#f03c3c" stroke-width="0.7" fill="none" opacity="0.8"/>
<circle cx="651.89" cy="666.85" r="3.2" fill="#f03c3c"/>
<path d="M670.49,645.7 V649.69 M667.29,645.7 H673.69 M667.29,649.69 H673.69" stroke="#f03c3c" stroke-width="0.7" fill="none" opacity="0.8"/>
<circle cx="670.49" cy="647.7" r="3.2" fill="#f03c3c"/>
<path d="M689.08,611.89 V621.88 M685.88,611.89 H692.28 M685.88,621.88 H692.28" stroke="#f03c3c" stroke-width="0.7" fill="none" opacity="0.8"/>
<circle cx="689.08" cy="616.88" r="3.2" fill="#f03c3c"/>
<path d="M707.68,597.73 V601.73 M704.48,597.73 H710.88 M704.48,601.73 H710.88" stroke="#f03c3c" stroke-width="0.7" fill="none" opacity="0.8"/>
<circle cx="707.68" cy="599.73" r="3.2" fill="#f03c3c"/>
<path d="M726.28,580.24 V584.24 M723.08,580.24 H729.48 M723.08,584.24 H729.48" stroke="#f03c3c" stroke-width="0.7" fill="none" opacity="0.8"/>
<circle cx="726.28" cy="582.24" r="3.2" fill="#f03c3c"/>
<path d="M782.06,543.27 V551.6 M778.86,543.27 H785.26 M778.86,551.6 H785.26" stroke="#f03c3c" stroke-width="0.7" fill="none" opacity="0.8"/>
<circle cx="782.06" cy="547.43" r="3.2" fill="#f03c3c"/>
<path d="M837.85,508.96 V522.28 M834.65,508.96 H841.05 M834.65,522.28 H841.05" stroke="#f03c3c" stroke-width="0.7" fill="none" opacity="0.8"/>
<circle cx="837.85" cy="515.62" r="3.2" fill="#f03c3c"/>
<path d="M949.43,474.82 V508.13 M946.23,474.82 H952.63 M946.23,508.13 H952.63" stroke="#f03c3c" stroke-width="0.7" fill="none" opacity="0.8"/>
<circle cx="949.43" cy="491.47" r="3.2" fill="#f03c3c"/>
<path d="M1061,458.66 V468.65 M1057.8,458.66 H1064.2 M1057.8,468.65 H1064.2" stroke="#f03c3c" stroke-width="0.7" fill="none" opacity="0.8"/>
<circle cx="1061" cy="463.66" r="3.2" fill="#f03c3c"/>
<path d="M614.7,736.8 C616.25,731.5 620.92,714.75 624,705 C627.08,695.25 630.12,686.25 633.2,678.3 C636.28,670.35 639.33,664.25 642.5,657.3 C645.67,650.35 647.55,646.8 652.2,636.6 C656.85,626.4 664.2,608.07 670.4,596.1 C676.6,584.13 683.17,573.58 689.4,564.8 C695.63,556.02 703.2,549.12 707.8,543.4 C712.4,537.68 713.95,534.18 717,530.5 C720.05,526.82 722.93,524.13 726.1,521.3 C729.27,518.47 732.53,515.9 736,513.5 C739.47,511.1 739.3,510.6 746.9,506.9 C754.5,503.2 771.17,496.73 781.6,491.3 C792.03,485.87 800.15,479.43 809.5,474.3 C818.85,469.17 827.7,464.42 837.7,460.5 C847.7,456.58 859.12,453.28 869.5,450.8 C879.88,448.32 886.73,447.55 900,445.6 C913.27,443.65 935.05,441.7 949.1,439.1 C963.15,436.5 965.62,434.57 984.3,430 C1002.98,425.43 1048.38,414.75 1061.2,411.7" fill="none" stroke="#1f6fe0" stroke-width="1.75" stroke-linejoin="round"/>
<path d="M614.7,733.4 L618.1,739.35 L611.3,739.35 Z" fill="#1f6fe0"/>
<path d="M633.3,672.68 V679.34 M630.1,672.68 H636.5 M630.1,679.34 H636.5" stroke="#1f6fe0" stroke-width="0.7" fill="none" opacity="0.8"/>
<path d="M633.3,672.61 L636.7,678.56 L629.9,678.56 Z" fill="#1f6fe0"/>
<path d="M651.89,630.21 V643.53 M648.69,630.21 H655.09 M648.69,643.53 H655.09" stroke="#1f6fe0" stroke-width="0.7" fill="none" opacity="0.8"/>
<path d="M651.89,633.47 L655.29,639.42 L648.49,639.42 Z" fill="#1f6fe0"/>
<path d="M670.49,593.9 V597.23 M667.29,593.9 H673.69 M667.29,597.23 H673.69" stroke="#1f6fe0" stroke-width="0.7" fill="none" opacity="0.8"/>
<path d="M670.49,592.17 L673.89,598.12 L667.09,598.12 Z" fill="#1f6fe0"/>
<path d="M689.08,560.42 V567.09 M685.88,560.42 H692.28 M685.88,567.09 H692.28" stroke="#1f6fe0" stroke-width="0.7" fill="none" opacity="0.8"/>
<path d="M689.08,560.35 L692.48,566.3 L685.68,566.3 Z" fill="#1f6fe0"/>
<path d="M707.68,539.77 V546.43 M704.48,539.77 H710.88 M704.48,546.43 H710.88" stroke="#1f6fe0" stroke-width="0.7" fill="none" opacity="0.8"/>
<path d="M707.68,539.7 L711.08,545.65 L704.28,545.65 Z" fill="#1f6fe0"/>
<path d="M726.28,512.79 V521.12 M723.08,512.79 H729.48 M723.08,521.12 H729.48" stroke="#1f6fe0" stroke-width="0.7" fill="none" opacity="0.8"/>
<path d="M726.28,513.55 L729.68,519.5 L722.88,519.5 Z" fill="#1f6fe0"/>
<path d="M782.06,488.64 V495.3 M778.86,488.64 H785.26 M778.86,495.3 H785.26" stroke="#1f6fe0" stroke-width="0.7" fill="none" opacity="0.8"/>
<path d="M782.06,488.57 L785.46,494.52 L778.66,494.52 Z" fill="#1f6fe0"/>
<path d="M837.85,448.5 V460.16 M834.65,448.5 H841.05 M834.65,460.16 H841.05" stroke="#1f6fe0" stroke-width="0.7" fill="none" opacity="0.8"/>
<path d="M837.85,450.93 L841.25,456.88 L834.45,456.88 Z" fill="#1f6fe0"/>
<path d="M949.43,436.68 V440.01 M946.23,436.68 H952.63 M946.23,440.01 H952.63" stroke="#1f6fe0" stroke-width="0.7" fill="none" opacity="0.8"/>
<path d="M949.43,434.94 L952.83,440.89 L946.03,440.89 Z" fill="#1f6fe0"/>
<path d="M1061,407.7 V414.36 M1057.8,407.7 H1064.2 M1057.8,414.36 H1064.2" stroke="#1f6fe0" stroke-width="0.7" fill="none" opacity="0.8"/>
<path d="M1061,407.63 L1064.4,413.58 L1057.6,413.58 Z" fill="#1f6fe0"/>
<path d="M614.7,736.8 C616.25,733.42 620.92,723.3 624,716.5 C627.08,709.7 630.1,702.95 633.2,696 C636.3,689.05 639.43,681.83 642.6,674.8 C645.77,667.77 649.05,659.57 652.2,653.8 C655.35,648.03 658.47,644.5 661.5,640.2 C664.53,635.9 665.75,634.48 670.4,628 C675.05,621.52 683.13,609.45 689.4,601.3 C695.67,593.15 702.9,585.18 708,579.1 C713.1,573.02 716.27,568.72 720,564.8 C723.73,560.88 725.92,558.95 730.4,555.6 C734.88,552.25 738.37,549.55 746.9,544.7 C755.43,539.85 771.17,532.15 781.6,526.5 C792.03,520.85 800.15,515.58 809.5,510.8 C818.85,506.02 827.7,501.48 837.7,497.8 C847.7,494.12 859.12,491.1 869.5,488.7 C879.88,486.3 886.73,485.8 900,483.4 C913.27,481 932.88,477.98 949.1,474.3 C965.32,470.62 978.62,466.7 997.3,461.3 C1015.98,455.9 1050.55,445.13 1061.2,441.9" fill="none" stroke="#2fa864" stroke-width="1.75" stroke-linejoin="round"/>
<path d="M614.7,740.2 L618.1,734.25 L611.3,734.25 Z" fill="#2fa864"/>
<path d="M633.3,687.67 V704.32 M630.1,687.67 H636.5 M630.1,704.32 H636.5" stroke="#2fa864" stroke-width="0.7" fill="none" opacity="0.8"/>
<path d="M633.3,699.4 L636.7,693.45 L629.9,693.45 Z" fill="#2fa864"/>
<path d="M651.89,643.2 V656.52 M648.69,643.2 H655.09 M648.69,656.52 H655.09" stroke="#2fa864" stroke-width="0.7" fill="none" opacity="0.8"/>
<path d="M651.89,653.26 L655.29,647.31 L648.49,647.31 Z" fill="#2fa864"/>
<path d="M670.49,625.71 V635.7 M667.29,625.71 H673.69 M667.29,635.7 H673.69" stroke="#2fa864" stroke-width="0.7" fill="none" opacity="0.8"/>
<path d="M670.49,634.11 L673.89,628.16 L667.09,628.16 Z" fill="#2fa864"/>
<path d="M689.08,596.56 V601.56 M685.88,596.56 H692.28 M685.88,601.56 H692.28" stroke="#2fa864" stroke-width="0.7" fill="none" opacity="0.8"/>
<path d="M689.08,602.46 L692.48,596.51 L685.68,596.51 Z" fill="#2fa864"/>
<path d="M707.68,577.91 V584.57 M704.48,577.91 H710.88 M704.48,584.57 H710.88" stroke="#2fa864" stroke-width="0.7" fill="none" opacity="0.8"/>
<path d="M707.68,584.64 L711.08,578.69 L704.28,578.69 Z" fill="#2fa864"/>
<path d="M726.28,548.93 V558.92 M723.08,548.93 H729.48 M723.08,558.92 H729.48" stroke="#2fa864" stroke-width="0.7" fill="none" opacity="0.8"/>
<path d="M726.28,557.33 L729.68,551.38 L722.88,551.38 Z" fill="#2fa864"/>
<path d="M782.06,522.12 V533.78 M778.86,522.12 H785.26 M778.86,533.78 H785.26" stroke="#2fa864" stroke-width="0.7" fill="none" opacity="0.8"/>
<path d="M782.06,531.35 L785.46,525.4 L778.66,525.4 Z" fill="#2fa864"/>
<path d="M837.85,488.31 V498.3 M834.65,488.31 H841.05 M834.65,498.3 H841.05" stroke="#2fa864" stroke-width="0.7" fill="none" opacity="0.8"/>
<path d="M837.85,496.7 L841.25,490.75 L834.45,490.75 Z" fill="#2fa864"/>
<path d="M949.43,469.49 V484.48 M946.23,469.49 H952.63 M946.23,484.48 H952.63" stroke="#2fa864" stroke-width="0.7" fill="none" opacity="0.8"/>
<path d="M949.43,480.38 L952.83,474.43 L946.03,474.43 Z" fill="#2fa864"/>
<path d="M1061,437.68 V446 M1057.8,437.68 H1064.2 M1057.8,446 H1064.2" stroke="#2fa864" stroke-width="0.7" fill="none" opacity="0.8"/>
<path d="M1061,445.24 L1064.4,439.29 L1057.6,439.29 Z" fill="#2fa864"/>
<line x1="614.7" y1="745.1" x2="614.7" y2="751.3" stroke="#000" stroke-width="1.7" />
<text transform="translate(614.7,770.3) scale(1.07,1.0)" font-size="17.5" text-anchor="middle" font-weight="normal" fill="#000" stroke="#000" stroke-width="0.45">0</text>
<line x1="689.08" y1="745.1" x2="689.08" y2="751.3" stroke="#000" stroke-width="1.7" />
<text transform="translate(689.08,770.3) scale(1.07,1.0)" font-size="17.5" text-anchor="middle" font-weight="normal" fill="#000" stroke="#000" stroke-width="0.45">20</text>
<line x1="763.47" y1="745.1" x2="763.47" y2="751.3" stroke="#000" stroke-width="1.7" />
<text transform="translate(763.47,770.3) scale(1.07,1.0)" font-size="17.5" text-anchor="middle" font-weight="normal" fill="#000" stroke="#000" stroke-width="0.45">40</text>
<line x1="837.85" y1="745.1" x2="837.85" y2="751.3" stroke="#000" stroke-width="1.7" />
<text transform="translate(837.85,770.3) scale(1.07,1.0)" font-size="17.5" text-anchor="middle" font-weight="normal" fill="#000" stroke="#000" stroke-width="0.45">60</text>
<line x1="912.24" y1="745.1" x2="912.24" y2="751.3" stroke="#000" stroke-width="1.7" />
<text transform="translate(912.24,770.3) scale(1.07,1.0)" font-size="17.5" text-anchor="middle" font-weight="normal" fill="#000" stroke="#000" stroke-width="0.45">80</text>
<line x1="986.62" y1="745.1" x2="986.62" y2="751.3" stroke="#000" stroke-width="1.7" />
<text transform="translate(986.62,770.3) scale(1.07,1.0)" font-size="17.5" text-anchor="middle" font-weight="normal" fill="#000" stroke="#000" stroke-width="0.45">100</text>
<line x1="1061" y1="745.1" x2="1061" y2="751.3" stroke="#000" stroke-width="1.7" />
<text transform="translate(1061,770.3) scale(1.07,1.0)" font-size="17.5" text-anchor="middle" font-weight="normal" fill="#000" stroke="#000" stroke-width="0.45">120</text>
<line x1="651.89" y1="745.1" x2="651.89" y2="748.7" stroke="#000" stroke-width="1.7" />
<line x1="726.28" y1="745.1" x2="726.28" y2="748.7" stroke="#000" stroke-width="1.7" />
<line x1="800.66" y1="745.1" x2="800.66" y2="748.7" stroke="#000" stroke-width="1.7" />
<line x1="875.04" y1="745.1" x2="875.04" y2="748.7" stroke="#000" stroke-width="1.7" />
<line x1="949.43" y1="745.1" x2="949.43" y2="748.7" stroke="#000" stroke-width="1.7" />
<line x1="1023.81" y1="745.1" x2="1023.81" y2="748.7" stroke="#000" stroke-width="1.7" />
<line x1="605.8" y1="736.8" x2="599.6" y2="736.8" stroke="#000" stroke-width="1.7" />
<text transform="translate(594.8,742.1) scale(1.09,1.0)" font-size="17.5" text-anchor="end" font-weight="normal" fill="#000" stroke="#000" stroke-width="0.45">0.0</text>
<line x1="605.8" y1="653.52" x2="599.6" y2="653.52" stroke="#000" stroke-width="1.7" />
<text transform="translate(594.8,658.82) scale(1.09,1.0)" font-size="17.5" text-anchor="end" font-weight="normal" fill="#000" stroke="#000" stroke-width="0.45">0.5</text>
<line x1="605.8" y1="570.25" x2="599.6" y2="570.25" stroke="#000" stroke-width="1.7" />
<text transform="translate(594.8,575.55) scale(1.09,1.0)" font-size="17.5" text-anchor="end" font-weight="normal" fill="#000" stroke="#000" stroke-width="0.45">1.0</text>
<line x1="605.8" y1="486.97" x2="599.6" y2="486.97" stroke="#000" stroke-width="1.7" />
<text transform="translate(594.8,492.27) scale(1.09,1.0)" font-size="17.5" text-anchor="end" font-weight="normal" fill="#000" stroke="#000" stroke-width="0.45">1.5</text>
<line x1="605.8" y1="403.7" x2="599.6" y2="403.7" stroke="#000" stroke-width="1.7" />
<text transform="translate(594.8,409) scale(1.09,1.0)" font-size="17.5" text-anchor="end" font-weight="normal" fill="#000" stroke="#000" stroke-width="0.45">2.0</text>
<line x1="605.8" y1="695.16" x2="602.4" y2="695.16" stroke="#000" stroke-width="1.7" />
<line x1="605.8" y1="611.89" x2="602.4" y2="611.89" stroke="#000" stroke-width="1.7" />
<line x1="605.8" y1="528.61" x2="602.4" y2="528.61" stroke="#000" stroke-width="1.7" />
<line x1="605.8" y1="445.34" x2="602.4" y2="445.34" stroke="#000" stroke-width="1.7" />
<rect x="605.8" y="403.6" width="464.1" height="341.5" fill="none" stroke="#000" stroke-width="1.7"/>
<line x1="919.2" y1="642.6" x2="958.7" y2="642.6" stroke="#4d4d4d" stroke-width="1.6" />
<rect x="936.3" y="640" width="5.2" height="5.2" fill="#4d4d4d"/>
<text transform="translate(963.2,648.7) scale(1.05,1.0)" font-size="16" text-anchor="start" font-weight="normal" fill="#000" stroke="#000" stroke-width="0.35">-0.5 V</text>
<line x1="919.2" y1="664.3" x2="958.7" y2="664.3" stroke="#f03c3c" stroke-width="1.6" />
<circle cx="938.9" cy="664.3" r="3.2" fill="#f03c3c"/>
<text transform="translate(963.2,670.4) scale(1.05,1.0)" font-size="16" text-anchor="start" font-weight="normal" fill="#000" stroke="#000" stroke-width="0.35">-0.7 V</text>
<line x1="919.2" y1="685.8" x2="958.7" y2="685.8" stroke="#1f6fe0" stroke-width="1.6" />
<path d="M938.9,682.4 L942.3,688.35 L935.5,688.35 Z" fill="#1f6fe0"/>
<text transform="translate(963.2,691.9) scale(1.05,1.0)" font-size="16" text-anchor="start" font-weight="normal" fill="#000" stroke="#000" stroke-width="0.35">-0.9 V</text>
<line x1="919.2" y1="707.3" x2="958.7" y2="707.3" stroke="#2fa864" stroke-width="1.6" />
<path d="M938.9,710.7 L942.3,704.75 L935.5,704.75 Z" fill="#2fa864"/>
<text transform="translate(963.2,713.4) scale(1.05,1.0)" font-size="16" text-anchor="start" font-weight="normal" fill="#000" stroke="#000" stroke-width="0.35">-1.1 V</text>
<text transform="translate(615.4,437.4) scale(1.06,1.0)" font-size="27.5" text-anchor="start" font-weight="normal" fill="#000" stroke="#000" stroke-width="0.7">(d)</text>
<text transform="translate(828.3,795.7) scale(1.11,1.0)" font-size="20.5" text-anchor="middle" font-weight="normal" fill="#000" stroke="#000" stroke-width="0.45">Time (min)</text>
<text transform="translate(559.2,569.2) rotate(-90) scale(1.01,1.03)" font-size="21.5" text-anchor="middle" font-weight="normal" fill="#000" stroke="#000" stroke-width="0.45">[H<tspan font-size="15" dy="4.5">2</tspan><tspan dy="-4.5">O</tspan><tspan font-size="15" dy="4.5">2</tspan><tspan dy="-4.5">] (mmol L</tspan><tspan font-size="15" dy="-7.5">-1</tspan><tspan dy="7.5">)</tspan></text>
</g>
</svg></body></html>
